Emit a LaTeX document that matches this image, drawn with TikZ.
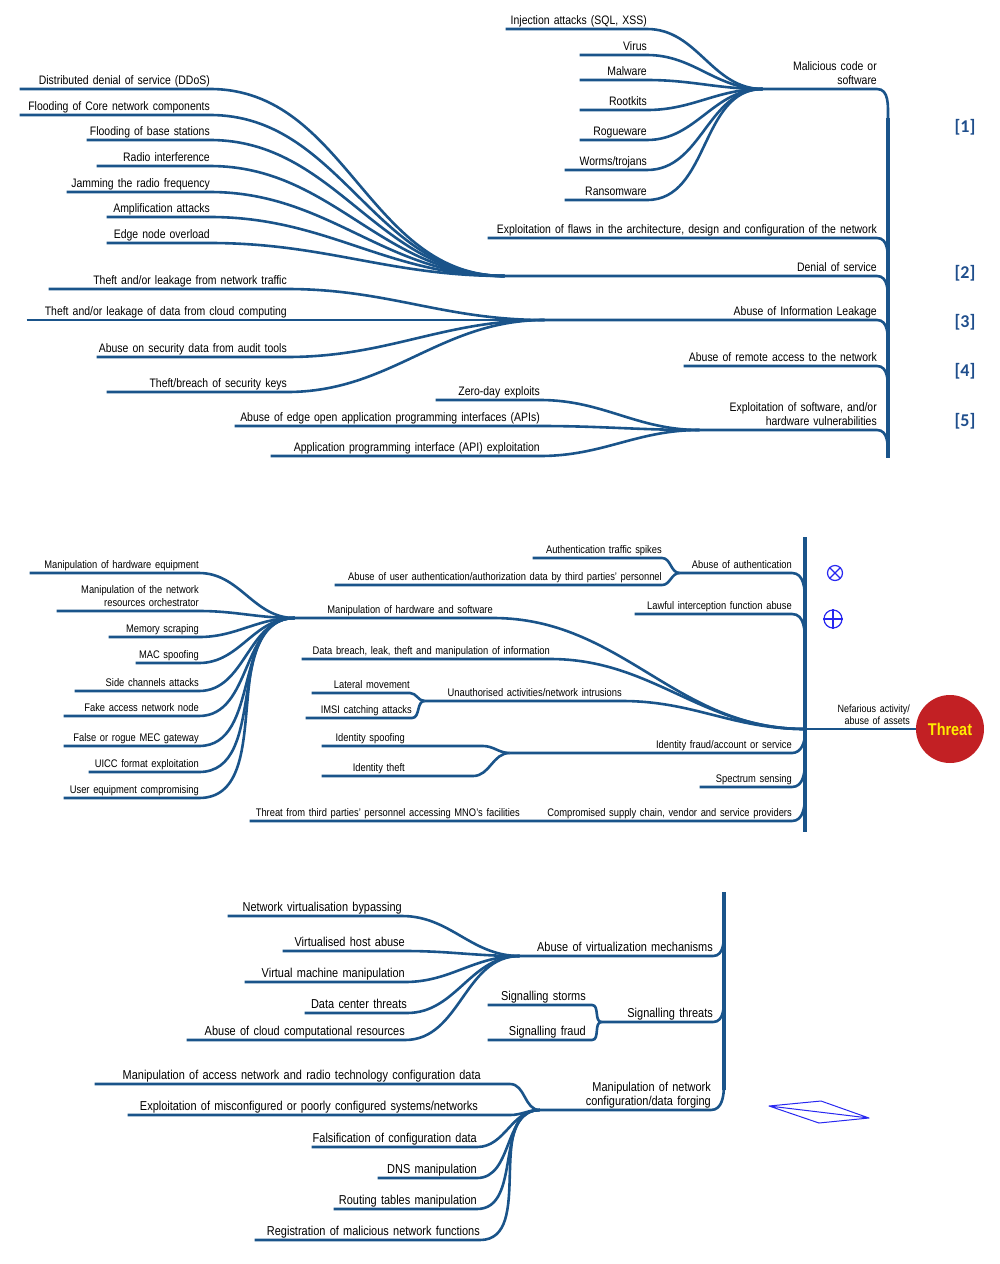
\documentclass[tikz,border=0pt]{standalone}
\usepackage{fontspec}
\newfontfamily\mapfont[FakeStretch=0.85, WordSpace=0.8]{Liberation Sans}
\newfontfamily\reffont{Carlito}
\usetikzlibrary{calc}
\setlength{\parindent}{0pt}
\definecolor{mapblue}{RGB}{26,84,138}
\definecolor{refblue}{RGB}{31,78,140}
\definecolor{threatred}{RGB}{194,32,36}
\definecolor{threatyellow}{RGB}{255,236,0}
\definecolor{symblue}{RGB}{40,40,240}
\tikzset{
  branch/.style   = {draw=mapblue, line width=2.6pt},
  trunk/.style    = {draw=mapblue, line width=3.4pt},
  leaf/.style     = {anchor=south east, align=right, inner xsep=0pt,
                     inner ysep=1.5pt, text depth=2.5pt},
  toptext/.style  = {leaf, font=\mapfont\fontsize{12.3}{14}\selectfont},
  midtext/.style  = {leaf, font=\mapfont\fontsize{11.0}{13}\selectfont},
  bottext/.style  = {leaf, font=\mapfont\fontsize{12.9}{14}\selectfont},
  reflabel/.style = {font=\reffont\bfseries\fontsize{18}{18}\selectfont, text=refblue},
  symb/.style     = {circle, draw=symblue, line width=1.2pt, inner sep=0pt},
  symline/.style  = {draw=symblue, line width=1.2pt}
}
\begin{document}
\begin{tikzpicture}[x=1pt, y=-1pt]
\useasboundingbox (0,0) rectangle (1000,1264);

% Top tree
\coordinate (topA) at (888,118);
\coordinate (topB) at (888,458);
\draw[trunk] (topA) -- (topB);

\node[toptext, text width=114pt, text depth=16.5pt] at (877,89) (mal) {Malicious code or\\software};
\draw[branch] (mal.south west) -- (mal.south east) to[out=0,in=90] ($(mal.south east)+(11,29)$);

\node[toptext, text width=389pt] at (877,238) (flaw) {Exploitation of flaws in the architecture, design and configuration of the network};
\draw[branch] (flaw.south west) -- (flaw.south east) to[out=0,in=90] ($(flaw.south east)+(11,27)$);

\node[toptext, text width=372pt] at (877,276) (dos) {Denial of service};
\draw[branch] (dos.south west) -- (dos.south east) to[out=0,in=90] ($(dos.south east)+(11,27)$);

\node[toptext, text width=332pt] at (877,320) (leak) {Abuse of Information Leakage};
\draw[branch] (leak.south west) -- (leak.south east) to[out=0,in=90] ($(leak.south east)+(11,27)$);

\node[toptext, text width=193pt] at (877,366) (remote) {Abuse of remote access to the network};
\draw[branch] (remote.south west) -- (remote.south east) to[out=0,in=90] ($(remote.south east)+(11,27)$);

\node[toptext, text width=177pt, text depth=16.5pt] at (877,430) (vuln) {Exploitation of software, and/or\\hardware vulnerabilities};
\draw[branch] (vuln.south west) -- (vuln.south east) to[out=0,in=90] ($(vuln.south east)+(11,27)$);

% Malicious code leaves
\node[toptext, text width=141pt] at (647,29) (inj) {Injection attacks (SQL, XSS)};
\draw[branch] (inj.south west) -- (inj.south east) to[out=0,in=180] (mal.south west);
\node[toptext, text width=67pt] at (647,55) (virus) {Virus};
\draw[branch] (virus.south west) -- (virus.south east) to[out=0,in=180] (mal.south west);
\node[toptext, text width=67pt] at (647,80) (malware) {Malware};
\draw[branch] (malware.south west) -- (malware.south east) to[out=0,in=180] (mal.south west);
\node[toptext, text width=67pt] at (647,110) (rootkits) {Rootkits};
\draw[branch] (rootkits.south west) -- (rootkits.south east) to[out=0,in=180] (mal.south west);
\node[toptext, text width=67pt] at (647,140) (rogue) {Rogueware};
\draw[branch] (rogue.south west) -- (rogue.south east) to[out=0,in=180] (mal.south west);
\node[toptext, text width=82pt] at (647,170) (worms) {Worms/trojans};
\draw[branch] (worms.south west) -- (worms.south east) to[out=0,in=180] (mal.south west);
\node[toptext, text width=82pt] at (647,200) (ransom) {Ransomware};
\draw[branch] (ransom.south west) -- (ransom.south east) to[out=0,in=180] (mal.south west);

% Denial of service leaves
\node[toptext, text width=190pt] at (210,89) (ddos) {Distributed denial of service (DDoS)};
\draw[branch] (ddos.south west) -- (ddos.south east) to[out=0,in=180] (dos.south west);
\node[toptext, text width=190pt] at (210,115) (core) {Flooding of Core network components};
\draw[branch] (core.south west) -- (core.south east) to[out=0,in=180] (dos.south west);
\node[toptext, text width=123pt] at (210,140) (bstat) {Flooding of base stations};
\draw[branch] (bstat.south west) -- (bstat.south east) to[out=0,in=180] (dos.south west);
\node[toptext, text width=113pt] at (210,166) (radio) {Radio interference};
\draw[branch] (radio.south west) -- (radio.south east) to[out=0,in=180] (dos.south west);
\node[toptext, text width=143pt] at (210,192) (jam) {Jamming the radio frequency};
\draw[branch] (jam.south west) -- (jam.south east) to[out=0,in=180] (dos.south west);
\node[toptext, text width=103pt] at (210,217) (amp) {Amplification attacks};
\draw[branch] (amp.south west) -- (amp.south east) to[out=0,in=180] (dos.south west);
\node[toptext, text width=103pt] at (210,243) (edge) {Edge node overload};
\draw[branch] (edge.south west) -- (edge.south east) to[out=0,in=180] (dos.south west);

% Information leakage leaves
\node[toptext, text width=238pt] at (287,289) (traffic) {Theft and/or leakage from network traffic};
\draw[branch] (traffic.south west) -- (traffic.south east) to[out=0,in=180] (leak.south west);
\node[toptext, text width=260pt] at (287,320) (cloud) {Theft and/or leakage of data from cloud computing};
\draw[branch] (cloud.south west) -- (cloud.south east) to[out=0,in=180] (leak.south west);
\node[toptext, text width=190pt] at (287,357) (audit) {Abuse on security data from audit tools};
\draw[branch] (audit.south west) -- (audit.south east) to[out=0,in=180] (leak.south west);
\node[toptext, text width=180pt] at (287,392) (keys) {Theft/breach of security keys};
\draw[branch] (keys.south west) -- (keys.south east) to[out=0,in=180] (leak.south west);

% Software vulnerability leaves
\node[toptext, text width=104pt] at (540,400) (zero) {Zero-day exploits};
\draw[branch] (zero.south west) -- (zero.south east) to[out=0,in=180] (vuln.south west);
\node[toptext, text width=305pt] at (540,426) (edgeapi) {Abuse of edge open application programming interfaces (APIs)};
\draw[branch] (edgeapi.south west) -- (edgeapi.south east) to[out=0,in=180] (vuln.south west);
\node[toptext, text width=269pt] at (540,456) (api) {Application programming interface (API) exploitation};
\draw[branch] (api.south west) -- (api.south east) to[out=0,in=180] (vuln.south west);

% References
\node[reflabel] at (965,127) (ref1) {[1]};
\node[reflabel] at (965,273) (ref2) {[2]};
\node[reflabel] at (965,322) (ref3) {[3]};
\node[reflabel] at (965,371) (ref4) {[4]};
\node[reflabel] at (965,421) (ref5) {[5]};

% Middle tree
\coordinate (midA) at (805,537);
\coordinate (midB) at (805,832);
\draw[trunk] (midA) -- (midB);

\node[leaf, font=\mapfont\fontsize{10.6}{12}\selectfont, text width=105pt, text depth=14.5pt] at (910,729) (nef) {Nefarious activity/\\abuse of assets};
\node[circle, fill=threatred, minimum size=68pt, inner sep=0pt, text=threatyellow,
      font=\mapfont\bfseries\fontsize{17}{17}\selectfont] at (950,729) (threat) {Threat};
\draw[branch] (nef.south west) -- (threat);

\node[midtext, text width=112pt] at (792,573) (auth) {Abuse of authentication};
\draw[branch] (auth.south west) -- (auth.south east) to[out=0,in=90] ($(auth.south east)+(13,27)$);
\node[midtext, text width=157pt] at (792,614) (lawful) {Lawful interception function abuse};
\draw[branch] (lawful.south west) -- (lawful.south east) to[out=0,in=90] ($(lawful.south east)+(13,30)$);

\node[midtext, text width=198pt] at (493,618) (manip) {Manipulation of hardware and software};
\draw[branch] (manip.south west) -- (manip.south east) to[out=0,in=180] (nef.south west);
\node[midtext, text width=248pt] at (550,659) (breach) {Data breach, leak, theft and manipulation of information};
\draw[branch] (breach.south west) -- (breach.south east) to[out=0,in=180] (nef.south west);
\node[midtext, text width=197pt] at (622,701) (unauth) {Unauthorised activities/network intrusions};
\draw[branch] (unauth.south west) -- (unauth.south east) to[out=0,in=180] (nef.south west);

\node[midtext, text width=282pt] at (792,753) (idfraud) {Identity fraud/account or service};
\draw[branch] (idfraud.south west) -- (idfraud.south east) to[out=0,in=-90] ($(idfraud.south east)+(13,-20)$);
\node[midtext, text width=92pt] at (792,787) (spectrum) {Spectrum sensing};
\draw[branch] (spectrum.south west) -- (spectrum.south east) to[out=0,in=-90] ($(spectrum.south east)+(13,-26)$);
\node[midtext, text width=272pt] at (792,821) (supply) {Compromised supply chain, vendor and service providers};
\node[midtext, text width=270pt] at (520,821) (third) {Threat from third parties’ personnel accessing MNO’s facilities};
\draw[branch] (third.south west) -- (supply.south east) to[out=0,in=-90] ($(supply.south east)+(13,-26)$);

% Authentication leaves
\node[midtext, text width=129pt] at (662,558) (spikes) {Authentication traffic spikes};
\draw[branch] (spikes.south west) -- (spikes.south east) to[out=0,in=180] (auth.south west);
\node[midtext, text width=327pt] at (662,585) (userauth) {Abuse of user authentication/authorization data by third parties’ personnel};
\draw[branch] (userauth.south west) -- (userauth.south east) to[out=0,in=180] (auth.south west);

% Intrusion leaves
\node[midtext, text width=98pt] at (410,693) (lateral) {Lateral movement};
\draw[branch] (lateral.south west) -- (lateral.south east) to[out=0,in=180] (unauth.south west);
\node[midtext, text width=106pt] at (412,718) (imsi) {IMSI catching attacks};
\draw[branch] (imsi.south west) -- (imsi.south east) to[out=0,in=180] (unauth.south west);

% Identity leaves
\node[midtext, text width=83pt] at (405,746) (spoof) {Identity spoofing};
\draw[branch] (spoof.south west) -- (spoof.south east) -- ++(78,0) to[out=0,in=180] (idfraud.south west);
\node[midtext, text width=83pt] at (405,776) (idtheft) {Identity theft};
\draw[branch] (idtheft.south west) -- (idtheft.south east) -- ++(68,0) to[out=0,in=180] (idfraud.south west);

% Hardware and software leaves
\node[midtext, text width=169pt] at (199,573) (hweq) {Manipulation of hardware equipment};
\draw[branch] (hweq.south west) -- (hweq.south east) to[out=0,in=180] (manip.south west);
\node[midtext, text width=142pt, text depth=15.5pt] at (199,611) (orch) {Manipulation of the network\\resources orchestrator};
\draw[branch] (orch.south west) -- (orch.south east) to[out=0,in=180] (manip.south west);
\node[midtext, text width=90pt] at (199,637) (memory) {Memory scraping};
\draw[branch] (memory.south west) -- (memory.south east) to[out=0,in=180] (manip.south west);
\node[midtext, text width=63pt] at (199,663) (mac) {MAC spoofing};
\draw[branch] (mac.south west) -- (mac.south east) to[out=0,in=180] (manip.south west);
\node[midtext, text width=124pt] at (199,691) (side) {Side channels attacks};
\draw[branch] (side.south west) -- (side.south east) to[out=0,in=180] (manip.south west);
\node[midtext, text width=135pt] at (199,716) (fakenode) {Fake access network node};
\draw[branch] (fakenode.south west) -- (fakenode.south east) to[out=0,in=180] (manip.south west);
\node[midtext, text width=135pt] at (199,746) (mec) {False or rogue MEC gateway};
\draw[branch] (mec.south west) -- (mec.south east) to[out=0,in=180] (manip.south west);
\node[midtext, text width=110pt] at (199,772) (uicc) {UICC format exploitation};
\draw[branch] (uicc.south west) -- (uicc.south east) to[out=0,in=180] (manip.south west);
\node[midtext, text width=135pt] at (199,798) (ue) {User equipment compromising};
\draw[branch] (ue.south west) -- (ue.south east) to[out=0,in=180] (manip.south west);

% Markers
\node[symb, minimum size=15pt] at (835,573) (otimes) {};
\draw[symline] (otimes.north east) -- (otimes.south west) (otimes.north west) -- (otimes.south east);
\node[symb, minimum size=18pt] at (833,619) (oplus) {};
\draw[symline] (oplus.north) -- (oplus.south) (oplus.west) -- (oplus.east);

% Bottom tree
\coordinate (botA) at (724,892);
\coordinate (botB) at (724,1090);
\draw[trunk] (botA) -- (botB);

\node[bottext, text width=193pt] at (713,956) (virt) {Abuse of virtualization mechanisms};
\draw[branch] (virt.south west) -- (virt.south east) to[out=0,in=-90] ($(virt.south east)+(11,-26)$);
\node[bottext, text width=111pt] at (713,1022) (signal) {Signalling threats};
\draw[branch] (signal.south west) -- (signal.south east) to[out=0,in=-90] ($(signal.south east)+(11,-26)$);
\node[bottext, text width=171pt, text depth=16.5pt] at (711,1110) (config) {Manipulation of network\\configuration/data forging};
\draw[branch] (config.south west) -- (config.south east) to[out=0,in=-90] ($(config.south east)+(13,-26)$);

% Virtualization leaves
\node[bottext, text width=174pt] at (402,916) (bypass) {Network virtualisation bypassing};
\draw[branch] (bypass.south west) -- (bypass.south east) to[out=0,in=180] (virt.south west);
\node[bottext, text width=122pt] at (405,951) (host) {Virtualised host abuse};
\draw[branch] (host.south west) -- (host.south east) to[out=0,in=180] (virt.south west);
\node[bottext, text width=160pt] at (405,982) (vm) {Virtual machine manipulation};
\draw[branch] (vm.south west) -- (vm.south east) to[out=0,in=180] (virt.south west);
\node[bottext, text width=102pt] at (407,1013) (dc) {Data center threats};
\draw[branch] (dc.south west) -- (dc.south east) to[out=0,in=180] (virt.south west);
\node[bottext, text width=218pt] at (405,1040) (cloudres) {Abuse of cloud computational resources};
\draw[branch] (cloudres.south west) -- (cloudres.south east) to[out=0,in=180] (virt.south west);

% Signalling leaves
\node[bottext, text width=98pt] at (586,1005) (storms) {Signalling storms};
\draw[branch] (storms.south west) -- (storms.south east) -- ++(6,0) to[out=0,in=180] (signal.south west);
\node[bottext, text width=98pt] at (586,1040) (sigfraud) {Signalling fraud};
\draw[branch] (sigfraud.south west) -- (sigfraud.south east) -- ++(6,0) to[out=0,in=180] (signal.south west);

% Configuration leaves
\node[bottext, text width=386pt] at (481,1084) (access) {Manipulation of access network and radio technology configuration data};
\draw[branch] (access.south west) -- (access.south east) -- ++(29,0) to[out=0,in=180] (config.south west);
\node[bottext, text width=350pt] at (478,1115) (miscfg) {Exploitation of misconfigured or poorly configured systems/networks};
\draw[branch] (miscfg.south west) -- (miscfg.south east) -- ++(32,0) to[out=0,in=180] (config.south west);
\node[bottext, text width=165pt] at (477,1147) (falsif) {Falsification of configuration data};
\draw[branch] (falsif.south west) -- (falsif.south east) to[out=0,in=180] (config.south west);
\node[bottext, text width=99pt] at (477,1178) (dns) {DNS manipulation};
\draw[branch] (dns.south west) -- (dns.south east) to[out=0,in=180] (config.south west);
\node[bottext, text width=143pt] at (477,1209) (routing) {Routing tables manipulation};
\draw[branch] (routing.south west) -- (routing.south east) to[out=0,in=180] (config.south west);
\node[bottext, text width=225pt] at (480,1240) (registr) {Registration of malicious network functions};
\draw[branch] (registr.south west) -- (registr.south east) to[out=0,in=180] (config.south west);

% Kite marker
\draw[symline, line width=1pt, line join=round] (769,1106) -- (821,1101) -- (869,1118) -- (819,1123) -- cycle (769,1106) -- (869,1118);

\end{tikzpicture}
\end{document}
